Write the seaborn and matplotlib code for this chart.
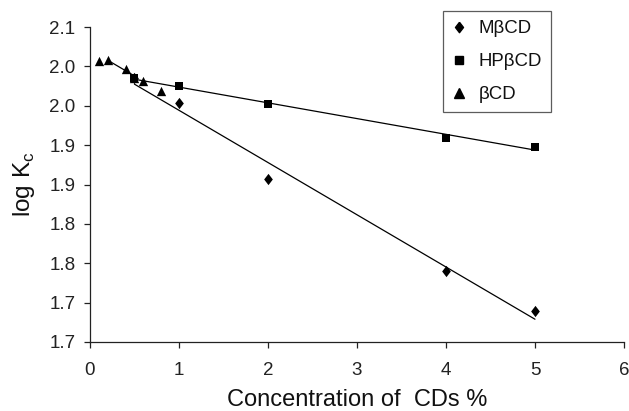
import numpy as np
import pandas as pd
import matplotlib
matplotlib.use("Agg")
import matplotlib.pyplot as plt
import seaborn as sns
from matplotlib.lines import Line2D

# Data
m_x = [0.5, 1, 2, 4, 5]
m_y = [2.035, 2.003, 1.907, 1.790, 1.739]
hp_x = [0.5, 1, 2, 4, 5]
hp_y = [2.035, 2.025, 2.002, 1.959, 1.948]
b_x = [0.1, 0.2, 0.4, 0.5, 0.6, 0.8]
b_y = [2.057, 2.058, 2.047, 2.035, 2.031, 2.019]
series_names = ["M\u03b2CD", "HP\u03b2CD", "\u03b2CD"]
y_ticks = [1.70, 1.75, 1.80, 1.85, 1.90, 1.95, 2.00, 2.05, 2.10]
y_tick_labels = ["1.7", "1.7", "1.8", "1.8", "1.9", "1.9", "2.0", "2.0", "2.1"]
x_ticks = [0, 1, 2, 3, 4, 5, 6]
# trendline x-extents
fit_ranges = {series_names[0]: (0.5, 5), series_names[1]: (0.5, 5), series_names[2]: (0.2, 0.5)}

sns.set_style("ticks")
plt.rcParams['font.family'] = ['Liberation Sans', 'DejaVu Sans']

df = pd.concat([
    pd.DataFrame({"x": m_x, "y": m_y, "s": series_names[0]}),
    pd.DataFrame({"x": hp_x, "y": hp_y, "s": series_names[1]}),
    pd.DataFrame({"x": b_x, "y": b_y, "s": series_names[2]}),
])

fig = plt.figure(figsize=(6.29, 4.11), dpi=100)
ax = fig.add_axes([0.143, 0.168, 0.849, 0.766])

diamond = [(0, 1), (0.77, 0), (0, -1), (-0.77, 0), (0, 1)]
markers = {series_names[0]: diamond, series_names[1]: "s", series_names[2]: "^"}
sizes = {series_names[0]: 66, series_names[1]: 36, series_names[2]: 45}
for name in series_names:
    sub = df[df.s == name]
    sns.scatterplot(data=sub, x="x", y="y", marker=markers[name], color="black",
                    s=sizes[name], edgecolor="black", linewidth=0, ax=ax, zorder=3,
                    legend=False)

# regression trendlines
for name in series_names:
    sub = df[df.s == name]
    if name == series_names[2]:
        sub = sub[sub.x >= 0.2]
    k, b = np.polyfit(sub.x, sub.y, 1)
    x0, x1 = fit_ranges[name]
    xx = np.array([x0, x1])
    ax.plot(xx, k * xx + b, color="black", lw=0.9, zorder=2)

ax.set_xlim(0, 6)
ax.set_ylim(1.70, 2.10)
ax.set_xticks(x_ticks)
ax.set_yticks(y_ticks)
ax.set_yticklabels(y_tick_labels)
ax.tick_params(labelsize=13.5, length=4.5, width=0.9, colors="#222222")
ax.tick_params(axis="x", pad=10)
ax.tick_params(axis="y", pad=6)
for sp in ["top", "right"]:
    ax.spines[sp].set_visible(False)
for sp in ["left", "bottom"]:
    ax.spines[sp].set_linewidth(0.9)
    ax.spines[sp].set_color("#222222")

ax.set_xlabel("Concentration of  CDs %", fontsize=17, labelpad=7, color="#111111")
ax.set_ylabel("log K$_\\mathregular{c}$", fontsize=17.5, labelpad=9, color="#111111")

msz = {series_names[0]: 7.5, series_names[1]: 5.5, series_names[2]: 6.5}
handles = [Line2D([], [], marker=markers[n], color="black", ls="none",
                  markersize=msz[n]) for n in series_names]
leg = fig.legend(handles, series_names, loc="upper left",
                 bbox_to_anchor=(443 / 629, 1 - 11 / 411), borderaxespad=0,
                 fontsize=13.4, frameon=True, fancybox=False, edgecolor="#333333",
                 handlelength=0.75, handletextpad=0.65, borderpad=0.5,
                 labelspacing=0.85)
leg.get_frame().set_linewidth(0.9)
for t in leg.get_texts():
    t.set_color("#111111")

fig.savefig("out.png", dpi=100)
